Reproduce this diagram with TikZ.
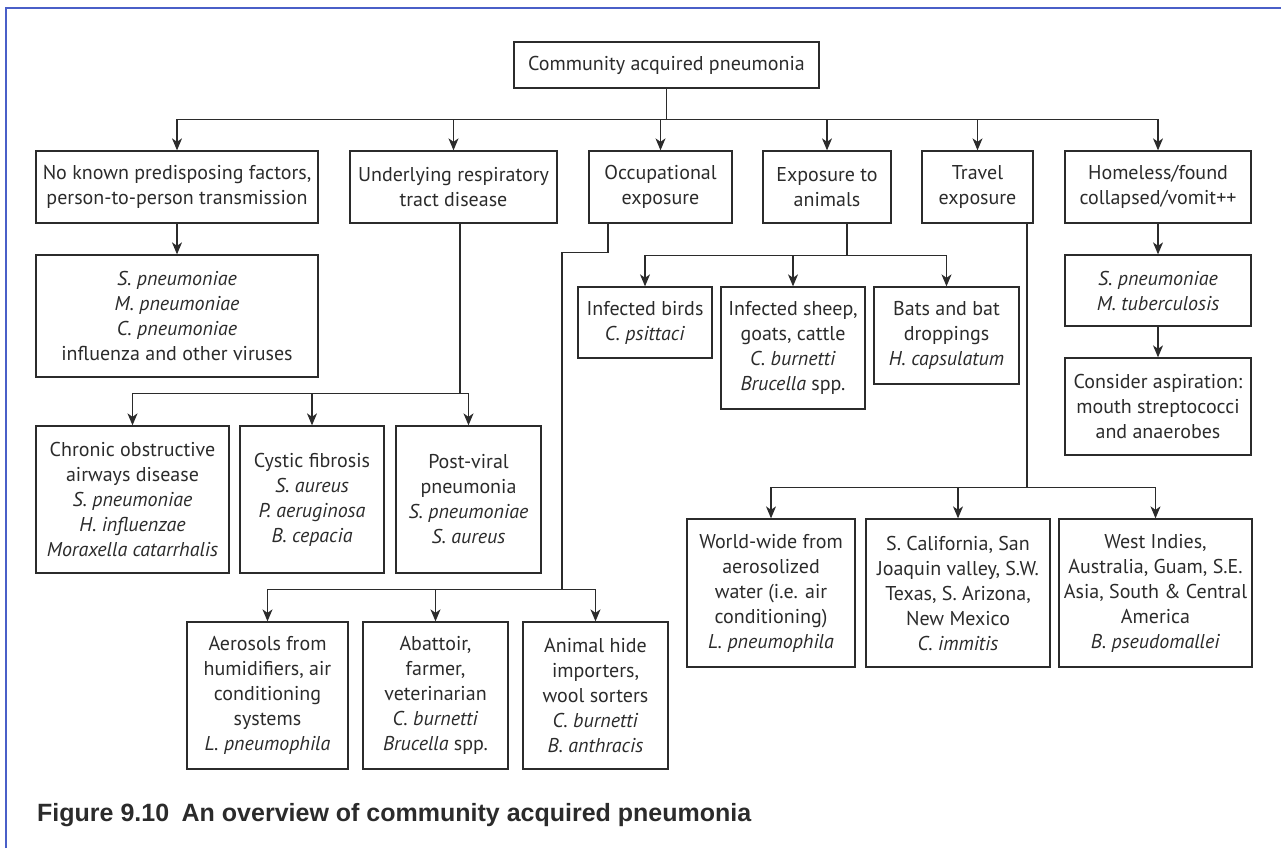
\documentclass[tikz,border=0pt]{standalone}
\usepackage{fontspec}
\setmainfont{PT Sans}
\newfontfamily\capfont{Liberation Sans}
\usetikzlibrary{arrows.meta}
\definecolor{ink}{HTML}{2B2B2B}
\definecolor{framecol}{HTML}{4A5FC8}

% box given by its left, top, right and bottom edges
\newcommand{\boxnode}[6]{%
  \node[box, minimum width={#4-#2}, minimum height={#5-#3}] (#1)
    at ({(#2+#4)/2},{(#3+#5)/2}) {#6};}

\begin{document}
\begin{tikzpicture}[x=1pt,y=-1pt,
  box/.style={draw=ink, line width=1.3pt, inner sep=0pt, align=center,
    text=ink, font=\fontsize{20}{25}\selectfont},
  link/.style={draw=ink, line width=1.2pt},
  arr/.style={link, -{Stealth[length=12pt,width=10pt,inset=3.5pt]}},
  captext/.style={anchor=base west, inner sep=0pt, text=ink,
    font=\capfont\bfseries\fontsize{25}{30}\selectfont},
]
\useasboundingbox (0,0) rectangle (1281,848);

% frame
\draw[framecol, line width=1.5pt] (6,848) -- (6,8) -- (1281,8);

% root
\boxnode{root}{514}{42}{819}{88}{Community acquired pneumonia}

% first level
\boxnode{b1}{36}{151}{318}{223}{No known predisposing factors,\\person-to-person transmission}
\boxnode{b2}{350}{151}{557}{223}{Underlying respiratory\\tract disease}
\boxnode{b3}{589}{151}{732}{223}{Occupational\\exposure}
\boxnode{b4}{763}{151}{891}{223}{Exposure to\\animals}
\boxnode{b5}{922}{151}{1033}{223}{Travel\\exposure}
\boxnode{b6}{1065}{151}{1251}{223}{Homeless/found\\collapsed/vomit++}

% no predisposing factors
\boxnode{s1}{36}{255}{318}{377}{\textit{S. pneumoniae}\\\textit{M. pneumoniae}\\\textit{C. pneumoniae}\\influenza and other viruses}

% respiratory tract disease
\boxnode{copd}{36}{426}{229}{573}{Chronic obstructive\\airways disease\\\textit{S. pneumoniae}\\\textit{H. influenzae}\\\textit{Moraxella catarrhalis}}
\boxnode{cf}{240}{426}{384}{573}{Cystic fibrosis\\\textit{S. aureus}\\\textit{P. aeruginosa}\\\textit{B. cepacia}}
\boxnode{pv}{396}{426}{541}{573}{Post-viral\\pneumonia\\\textit{S. pneumoniae}\\\textit{S. aureus}}

% occupational
\boxnode{aero}{187}{622}{348}{769}{Aerosols from\\humidifiers, air\\conditioning\\systems\\\textit{L. pneumophila}}
\boxnode{abat}{363}{622}{508}{769}{Abattoir,\\farmer,\\veterinarian\\\textit{C. burnetti}\\\textit{Brucella} spp.}
\boxnode{hide}{523}{622}{668}{769}{Animal hide\\importers,\\wool sorters\\\textit{C. burnetti}\\\textit{B. anthracis}}

% animals
\boxnode{birds}{578}{287}{712}{358}{Infected birds\\\textit{C. psittaci}}
\boxnode{sheep}{721}{287}{865}{409}{Infected sheep,\\goats, cattle\\\textit{C. burnetti}\\\textit{Brucella} spp.}
\boxnode{bats}{874}{287}{1019}{384}{Bats and bat\\droppings\\\textit{H. capsulatum}}

% travel
\boxnode{ww}{687}{519}{855}{667}{World-wide from\\aerosolized\\water (i.e. air\\conditioning)\\\textit{L. pneumophila}}
\boxnode{sc}{866}{519}{1050}{667}{S. California, San\\Joaquin valley, S.W.\\Texas, S. Arizona,\\New Mexico\\\textit{C. immitis}}
\boxnode{wi}{1059}{519}{1252}{667}{West Indies,\\Australia, Guam, S.E.\\Asia, South \& Central\\America\\\textit{B. pseudomallei}}

% homeless
\boxnode{hs1}{1065}{255}{1251}{326}{\textit{S. pneumoniae}\\\textit{M. tuberculosis}}
\boxnode{hs2}{1065}{358}{1251}{455}{Consider aspiration:\\mouth streptococci\\and anaerobes}

% connectors: root to first level
\path (root.south) ++(0,31) coordinate (j0);
\draw[link] (root.south) -- (j0);
\foreach \n in {b1,b2,b3,b4,b5,b6} \draw[arr] (j0) -| (\n.north);

\draw[arr] (b1) -- (s1);

\path ([xshift=6.5pt]b2.south) coordinate (b2o) ++(0,170) coordinate (j2);
\draw[link] (b2o) -- (j2);
\foreach \n in {copd,cf,pv} \draw[arr] (j2) -| (\n.north);

\path ([xshift=-52.5pt]b3.south) coordinate (b3o) ++(0,29) coordinate (b3k)
  ++(-46,0) coordinate (b3l) ++(0,337) coordinate (j3);
\draw[link] (b3o) -- (b3k) -- (b3l) -- (j3);
\foreach \n in {aero,abat,hide} \draw[arr] (j3) -| (\n.north);

\path ([xshift=20pt]b4.south) coordinate (b4o) ++(0,32) coordinate (j4);
\draw[link] (b4o) -- (j4);
\foreach \n in {birds,sheep,bats} \draw[arr] (j4) -| (\n.north);

\path ([xshift=49.5pt]b5.south) coordinate (b5o) ++(0,264) coordinate (j5);
\draw[link] (b5o) -- (j5);
\foreach \n in {ww,sc,wi} \draw[arr] (j5) -| (\n.north);

\draw[arr] (b6) -- (hs1);
\draw[arr] (hs1) -- (hs2);

% caption
\node[captext] (cap) at (37,821) {Figure 9.10\enspace An overview of community acquired pneumonia};
\end{tikzpicture}
\end{document}
